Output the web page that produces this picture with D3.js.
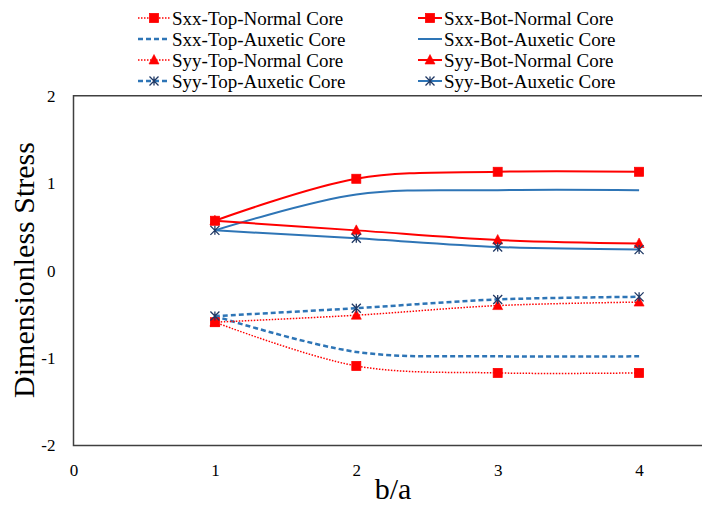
<!DOCTYPE html>
<html>
<head>
<meta charset="utf-8">
<script src="https://cdn.jsdelivr.net/npm/d3@7"></script>
<style>
  html, body { margin: 0; padding: 0; background: #fff; }
  svg { display: block; }
  text { font-family: "Liberation Serif", "Times New Roman", serif; }
</style>
</head>
<body>
<svg id="chart" width="702" height="506"></svg>
<script>
// b/a ratios
const ratios = [1, 2, 3, 4];

// Dimensionless stress per series
const sxxTopNormal  = [-0.59, -1.09, -1.17, -1.17];
const sxxBotNormal  = [0.57, 1.05, 1.13, 1.13];
const sxxTopAuxetic = [-0.52, -0.93, -0.98, -0.98];
const sxxBotAuxetic = [0.46, 0.87, 0.92, 0.92];
const syyTopNormal  = [-0.59, -0.51, -0.40, -0.36];
const syyBotNormal  = [0.57, 0.46, 0.35, 0.31];
const syyTopAuxetic = [-0.52, -0.43, -0.33, -0.30];
const syyBotAuxetic = [0.46, 0.37, 0.27, 0.24];

const seriesNames = [
  "Sxx-Top-Normal Core", "Sxx-Bot-Normal Core",
  "Sxx-Top-Auxetic Core", "Sxx-Bot-Auxetic Core",
  "Syy-Top-Normal Core", "Syy-Bot-Normal Core",
  "Syy-Top-Auxetic Core", "Syy-Bot-Auxetic Core"
];
const seriesValues = [
  sxxTopNormal, sxxBotNormal,
  sxxTopAuxetic, sxxBotAuxetic,
  syyTopNormal, syyBotNormal,
  syyTopAuxetic, syyBotAuxetic
];

const xTicks = [0, 1, 2, 3, 4];
const yTicks = [-2, -1, 0, 1, 2];

// Visual styles per series (same order as the names above)
const RED = "#ff0000", BLUE = "#2e75b6", NAVY = "#1f3864";
const SERIF = "Liberation Serif, Times New Roman, serif";
const styles = [
  { color: RED,  width: 1.5, dash: "1.5,1.5", marker: "square" },
  { color: RED,  width: 2,   dash: null,      marker: "square" },
  { color: BLUE, width: 2.5, dash: "5,3",     marker: null },
  { color: BLUE, width: 2,   dash: null,      marker: null },
  { color: RED,  width: 1.5, dash: "1.5,1.5", marker: "triangle" },
  { color: RED,  width: 2,   dash: null,      marker: "triangle" },
  { color: BLUE, width: 2.5, dash: "5,3",     marker: "star" },
  { color: BLUE, width: 2,   dash: null,      marker: "star" }
];

const svg = d3.select("#chart");
const plotLeft = 73.5, plotRight = 702, plotTop = 95.7, plotBottom = 445.5;

const x = d3.scaleLinear().domain([0, (plotRight - plotLeft) / 141.4]).range([plotLeft, plotRight]);
const y = d3.scaleLinear().domain([-2, 2]).range([plotBottom, plotTop]);

// Frame: top, left and bottom edges of the plot area
svg.append("path")
  .attr("d", `M${plotRight},${plotTop}H${plotLeft}V${plotBottom}H${plotRight}`)
  .attr("fill", "none")
  .attr("stroke", "#404040")
  .attr("stroke-width", 1.5);

// Axes (labels only, plain hyphen for negatives)
const fmt = d => String(d);
const yAxis = svg.append("g")
  .attr("transform", `translate(${plotLeft},0)`)
  .call(d3.axisLeft(y).tickValues(yTicks).tickSize(0).tickPadding(18).tickFormat(fmt));
yAxis.attr("font-family", SERIF);
yAxis.select(".domain").remove();
yAxis.selectAll("text")
  .attr("font-size", 17).attr("fill", "#000")
  .attr("font-family", SERIF);

const xAxis = svg.append("g")
  .attr("transform", `translate(0,${plotBottom})`)
  .call(d3.axisBottom(x).tickValues(xTicks).tickSize(0).tickPadding(18).tickFormat(fmt));
xAxis.attr("font-family", SERIF);
xAxis.select(".domain").remove();
xAxis.selectAll("text")
  .attr("font-size", 17).attr("fill", "#000")
  .attr("font-family", SERIF);

// Axis titles
svg.append("text")
  .attr("x", 393).attr("y", 499)
  .attr("text-anchor", "middle")
  .attr("font-family", SERIF)
  .attr("font-size", 30)
  .text("b/a");

svg.append("text")
  .attr("transform", "translate(34,270) rotate(-90)")
  .attr("text-anchor", "middle")
  .attr("font-family", SERIF)
  .attr("font-size", 30)
  .text("Dimensionless Stress");

// Marker drawing
function drawMarker(g, type, cx, cy) {
  if (type === "square") {
    g.append("rect")
      .attr("x", cx - 4.5).attr("y", cy - 4.5)
      .attr("width", 9).attr("height", 9)
      .attr("fill", RED).attr("stroke", RED).attr("stroke-width", 0.8);
  } else if (type === "triangle") {
    g.append("path")
      .attr("d", `M${cx},${cy - 5.5}L${cx + 5},${cy + 4}L${cx - 5},${cy + 4}Z`)
      .attr("fill", RED).attr("stroke", RED).attr("stroke-width", 0.6);
  } else if (type === "star") {
    const r = 4.5;
    g.append("path")
      .attr("d", `M${cx - r},${cy - r}L${cx + r},${cy + r}M${cx + r},${cy - r}L${cx - r},${cy + r}M${cx},${cy - r}V${cy + r}`)
      .attr("fill", "none").attr("stroke", NAVY).attr("stroke-width", 1.3);
  }
}

const line = d3.line()
  .x((d, i) => x(ratios[i]))
  .y(d => y(d))
  .curve(d3.curveCatmullRom.alpha(0.5));

const plot = svg.append("g");
seriesValues.forEach((vals, k) => {
  const st = styles[k];
  plot.append("path")
    .attr("d", line(vals))
    .attr("fill", "none")
    .attr("stroke", st.color)
    .attr("stroke-width", st.width)
    .attr("stroke-dasharray", st.dash);
});
seriesValues.forEach((vals, k) => {
  const st = styles[k];
  if (!st.marker) return;
  const mg = plot.append("g");
  vals.forEach((v, i) => drawMarker(mg, st.marker, x(ratios[i]), y(v)));
});

// Legend: two columns, four rows
const legend = svg.append("g");
const rowY = [18, 39, 60, 81];
const cols = [
  { x0: 138, x1: 170, tx: 172 },
  { x0: 418, x1: 442, tx: 444 }
];
seriesNames.forEach((name, k) => {
  const st = styles[k];
  const c = cols[k % 2];
  const ry = rowY[Math.floor(k / 2)];
  legend.append("line")
    .attr("x1", c.x0).attr("x2", c.x1)
    .attr("y1", ry).attr("y2", ry)
    .attr("stroke", st.color)
    .attr("stroke-width", st.width)
    .attr("stroke-dasharray", st.dash);
  if (st.marker) drawMarker(legend, st.marker, (c.x0 + c.x1) / 2, ry);
  legend.append("text")
    .attr("x", c.tx).attr("y", ry)
    .attr("dy", "0.35em")
    .attr("font-family", SERIF)
    .attr("font-size", 19)
    .text(name);
});
</script>
</body>
</html>
